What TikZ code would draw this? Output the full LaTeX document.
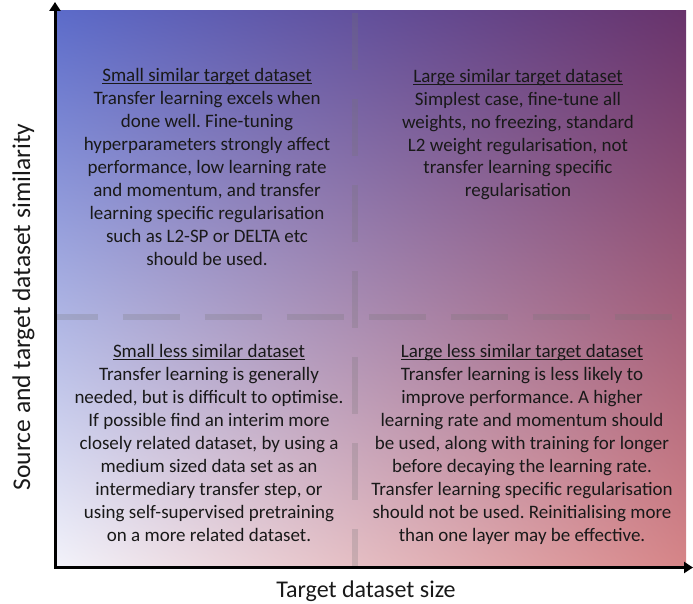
\documentclass[tikz,border=0pt]{standalone}
\usepackage{fontspec}
\setmainfont{Carlito}
\usepackage{tikz}
\usetikzlibrary{arrows.meta}
\usetikzlibrary{positioning}
\frenchspacing

% underlined heading of a quadrant
\newcommand\ulhead[1]{\setbox0=\hbox{#1}\rlap{\rule[-2.4pt]{\wd0}{1.1pt}}\box0}

% four corner colour fill (bilinear)
% BL (.95,.95,.98)  BR (.84,.52,.53)  TL (.36,.42,.79)  TR (.41,.20,.42)
\pgfdeclarefunctionalshading{quadfill}{\pgfpointorigin}{\pgfpoint{100bp}{100bp}}{}{
  25 sub 50 div exch 25 sub 50 div exch
  2 copy mul 0.160 mul 2 index -0.11 mul add 1 index -0.59 mul add 0.95 add 3 1 roll
  2 copy mul 0.210 mul 2 index -0.43 mul add 1 index -0.53 mul add 0.95 add 3 1 roll
  2 copy mul 0.080 mul 2 index -0.45 mul add 1 index -0.19 mul add 0.98 add
  3 1 roll pop pop
}

\begin{document}
\begin{tikzpicture}[x=1pt,y=-1pt,>={Triangle[length=9pt,width=11pt]},
                    quad text/.style={align=center,inner sep=0pt,anchor=north,text=black!90,
                                      font=\fontsize{19}{22.9}\selectfont},
                    axis label/.style={inner sep=0pt,anchor=base,text=black!90},
                    axis line/.style={<->,line width=3pt,line join=miter},
                    split line/.style={draw=black!55,opacity=0.24,line width=6pt}]
  \useasboundingbox (0,0) rectangle (693,604);

  \coordinate (boxtl) at (56.5,11);
  \coordinate (boxbr) at (686,566);
  \shade[shading=quadfill] (boxtl) rectangle (boxbr);

  \coordinate (midtop) at (355,11);
  \coordinate (midbot) at (355,566);
  \coordinate (midleft) at (56.5,317);
  \coordinate (midright) at (686,317);
  \draw[split line,dash pattern=on 57pt off 29pt,dash phase=84pt] (midtop) -- (midbot);
  \draw[split line,dash pattern=on 57pt off 25pt,dash phase=16pt] (midleft) -- (midright);

  \coordinate (origin) at (55,567.5);
  \coordinate (ytip) at (55,2);
  \coordinate (xtip) at (693,567.5);
  \draw[axis line] (ytip) -- (origin) -- (xtip);

  \node[quad text] (smallsim) at (207,68.5) {\ulhead{Small similar target dataset}\\
    Transfer learning excels when\\
    done well. Fine-tuning\\
    hyperparameters strongly affect\\
    performance, low learning rate\\
    and momentum, and transfer\\
    learning specific regularisation\\
    such as L2-SP or DELTA etc\\
    should be used.};
  \node[quad text] (largesim) at (518,69) {\ulhead{Large similar target dataset}\\
    Simplest case, fine-tune all\\
    weights, no freezing, standard\\
    L2 weight regularisation, not\\
    transfer learning specific\\
    regularisation};
  \node[quad text] (smallless) at (209,344.5) {\ulhead{Small less similar dataset}\\
    Transfer learning is generally\\
    needed, but is difficult to optimise.\\
    If possible find an interim more\\
    closely related dataset, by using a\\
    medium sized data set as an\\
    intermediary transfer step, or\\
    using self-supervised pretraining\\
    on a more related dataset.};
  \node[quad text] (largeless) at (522,344.5) {\ulhead{Large less similar target dataset}\\
    Transfer learning is less likely to\\
    improve performance. A higher\\
    learning rate and momentum should\\
    be used, along with training for longer\\
    before decaying the learning rate.\\
    Transfer learning specific regularisation\\
    should not be used. Reinitialising more\\
    than one layer may be effective.};

  \node[axis label,font=\fontsize{24}{28}\selectfont] (xlabel) at (366,597) {Target dataset size};
  \node[axis label,font=\fontsize{25.5}{30}\selectfont,rotate=90] (ylabel) at (30,307)
    {Source and target dataset similarity};
\end{tikzpicture}
\end{document}
